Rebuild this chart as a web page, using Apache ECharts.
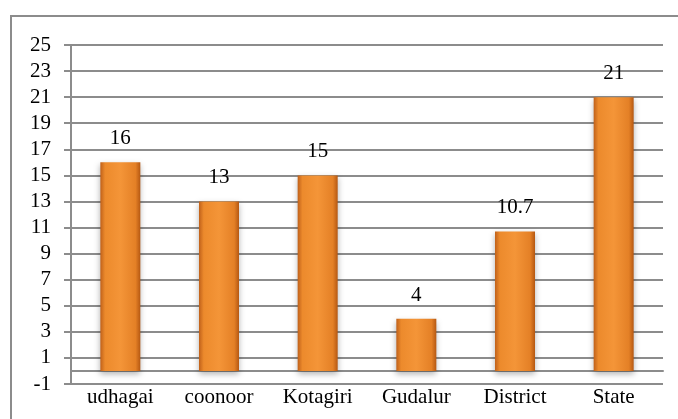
<!DOCTYPE html>
<html>
<head>
<meta charset="utf-8">
<script src="https://cdn.jsdelivr.net/npm/echarts@6/dist/echarts.min.js"></script>
<style>
  html, body { margin: 0; padding: 0; background: #fff; }
  #chart { width: 678px; height: 419px; }
</style>
</head>
<body>
<div id="chart"></div>
<script>
const places = ['udhagai', 'coonoor', 'Kotagiri', 'Gudalur', 'District', 'State']
const values = [16, 13, 15, 4, 10.7, 21]
const yMin = -1
const yMax = 25
const yStep = 2

const chart = echarts.init(document.getElementById('chart'))
const serif = '"Liberation Serif", "DejaVu Serif", serif'

// orange cylinder-ish look
const barFill = new echarts.graphic.LinearGradient(0, 0, 1, 0, [
  { offset: 0, color: '#c0611a' },
  { offset: 0.12, color: '#ec8a2c' },
  { offset: 0.5, color: '#f49538' },
  { offset: 0.88, color: '#e48026' },
  { offset: 1, color: '#b55812' }
])

const option = {
  animation: false,
  graphic: [
    {
      type: 'rect',
      shape: { x: 11, y: 16, width: 700, height: 440 },
      style: { fill: 'none', stroke: '#8c8c8c', lineWidth: 2 },
      silent: true
    }
  ],
  grid: { left: 71, top: 45, right: 15, bottom: 35 },
  xAxis: {
    type: 'category',
    data: places,
    axisLine: { onZero: true, lineStyle: { color: '#8c8c8c', width: 2 } },
    axisTick: { length: 6, lineStyle: { color: '#8c8c8c', width: 2 } },
    axisLabel: { margin: 3, color: '#000', fontSize: 21, fontFamily: serif }
  },
  yAxis: {
    type: 'value',
    min: yMin,
    max: yMax,
    interval: yStep,
    axisLine: { show: true, lineStyle: { color: '#8c8c8c', width: 2 } },
    axisTick: { show: true, length: 7, lineStyle: { color: '#8c8c8c', width: 2 } },
    axisLabel: { margin: 20, color: '#000', fontSize: 21, fontFamily: serif },
    splitLine: { lineStyle: { color: '#8c8c8c', width: 2 } }
  },
  series: [
    {
      type: 'bar',
      data: values,
      barWidth: 40,
      itemStyle: {
        color: barFill,
        shadowColor: 'rgba(0,0,0,0.3)',
        shadowBlur: 6,
        shadowOffsetY: 3
      },
      label: {
        show: true,
        position: 'top',
        distance: 13,
        color: '#000',
        fontSize: 21,
        fontFamily: serif
      }
    }
  ]
}
chart.setOption(option)
</script>
</body>
</html>
